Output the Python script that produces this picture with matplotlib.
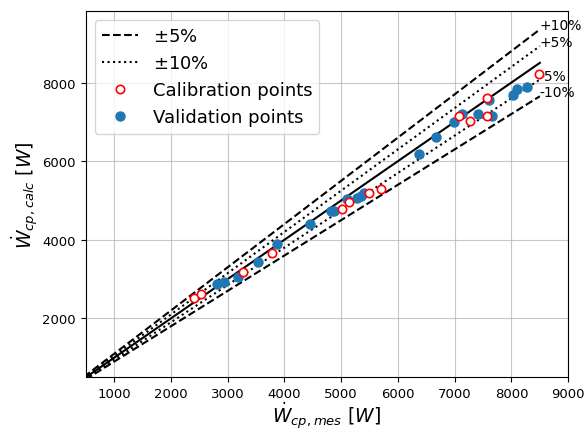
import numpy as np
import matplotlib.pyplot as plt

## Calibration points (measured, calculated) ##
cal_mes = [2411, 2529, 3279, 3777, 5019, 5136, 5487, 5710, 7069, 7262, 7578, 7578, 8487]
cal_calc = [2530, 2614, 3187, 3674, 4778, 4972, 5199, 5290, 7144, 7025, 7614, 7144, 8205]

## Validation points ##
val_mes = [2820, 2945, 3188, 3530, 3865, 4455, 4814, 4872, 5107, 5283, 5341, 5400,
           6372, 6671, 6981, 7128, 7402, 7596, 7655, 8030, 8090, 8269]
val_calc = [2866, 2927, 3061, 3448, 3894, 4412, 4745, 4745, 5038, 5055, 5114, 5182,
            6180, 6614, 7008, 7202, 7194, 7550, 7159, 7673, 7833, 7876]

x_max = 8500
bands = [1.10, 1.05, 0.95, 0.90]
band_labels = ['+10%', '+5%', '-5%', '-10%']

fig = plt.figure(figsize=(5.87, 4.31), dpi=100)
ax = fig.add_axes([0.146, 0.122, 0.822, 0.85])

xl = np.array([0, x_max])
ax.plot(xl, xl, 'k-', lw=1.5)
ax.plot(xl, 1.10*xl, 'k--', lw=1.5, label=r'$\pm 5\%$')
ax.plot(xl, 0.90*xl, 'k--', lw=1.5)
ax.plot(xl, 1.05*xl, 'k:', lw=1.5, label=r'$\pm 10\%$')
ax.plot(xl, 0.95*xl, 'k:', lw=1.5)

for f, lab in zip(bands, band_labels):
    ax.text(x_max, f*x_max, lab, fontsize=10)

ax.plot(cal_mes, cal_calc, 'o', mfc='white', mec='red', ms=6, mew=1.2,
        label='Calibration points', zorder=4)
ax.plot(val_mes, val_calc, 'o', color='#1f77b4', ms=6.5,
        label='Validation points', zorder=3)

ax.set_xlim(500, 9000)
ax.set_ylim(500, 9817)
ax.set_yticks([2000, 4000, 6000, 8000])
ax.grid(True, color='#b0b0b0', lw=0.8, alpha=0.7)
ax.tick_params(labelsize=9.5)
ax.set_xlabel(r'$\dot{W}_{cp,mes}\ [W]$', fontsize=13.5, labelpad=0)
ax.set_ylabel(r'$\dot{W}_{cp,calc}\ [W]$', fontsize=13.5, labelpad=1)
ax.legend(loc='upper left', fontsize=13)

plt.savefig('out.png')
